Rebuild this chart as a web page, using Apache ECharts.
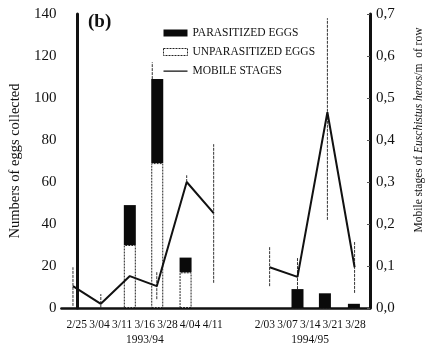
<!DOCTYPE html>
<html>
<head>
<meta charset="utf-8">
<script src="https://cdn.jsdelivr.net/npm/echarts@6/dist/echarts.min.js"></script>
<style>
  html, body { margin: 0; padding: 0; background: #fff; }
  #chart { width: 433px; height: 349px; }
</style>
</head>
<body>
<div id="chart"></div>
<script>
  // tick labels along the bottom (x in label slots)
  var tickLabels = ['2/25', '3/04', '3/11', '3/16', '3/28', '4/04', '4/11', '2/03', '3/07', '3/14', '3/21', '3/28']
  var tickPos = [0, 1, 2, 3, 4, 5, 6, 8.3, 9.3, 10.3, 11.3, 12.3]
  var seasonUnder = { '3': '1993/94', '10.3': '1994/95' }

  // egg samples (left axis)
  var eggX = [2.34, 3.55, 4.8, 9.74, 10.95, 12.23]
  var unparasitized = [30, 69, 17, 0, 0, 0]
  var parasitized = [19, 40, 7, 9, 7, 2]

  // mobile stages per m of row (right axis)
  var mob93X = [-0.17, 1.06, 2.34, 3.53, 4.85, 6.04]
  var mob93 = [0.052, 0.01, 0.076, 0.052, 0.30, 0.226]
  var mob94X = [8.51, 9.74, 11.06, 12.26]
  var mob94 = [0.097, 0.074, 0.466, 0.097]

  // error bars of mobile stages: x, low, high
  var errX = [-0.17, 1.06, 3.53, 4.85, 6.04, 8.51, 9.74, 11.06, 12.26]
  var errLo = [0.005, 0, 0.021, 0.30, 0.06, 0.052, 0.045, 0.21, 0.036]
  var errHi = [0.097, 0.033, 0.086, 0.316, 0.39, 0.145, 0.119, 0.69, 0.157]
  // the one on the eggs (3/16)
  var eggErr = [[3.33, 109, 117]]

  var serif = '"Liberation Serif", "DejaVu Serif", serif'
  var BAR_W = 12

  function pairs (xs, ys) {
    return xs.map(function (x, i) { return [x, ys[i]] })
  }

  function errBar (color) {
    return function (params, api) {
      var p1 = api.coord([api.value(0), api.value(1)])
      var p2 = api.coord([api.value(0), api.value(2)])
      return {
        type: 'line',
        shape: { x1: p1[0], y1: p1[1], x2: p2[0], y2: p2[1] },
        style: { stroke: color, lineWidth: 1, lineDash: [3, 1] }
      }
    }
  }

  // parasitized part sits on top of the unparasitized part
  function topBar (params, api) {
    var x = api.value(0)
    var base = api.value(1)
    var p0 = api.coord([x, base])
    var p1 = api.coord([x, base + api.value(2)])
    return {
      type: 'rect',
      shape: { x: p0[0] - BAR_W / 2, y: p1[1], width: BAR_W, height: p0[1] - p1[1] },
      style: { fill: '#0a0a0a' }
    }
  }

  var chart = echarts.init(document.getElementById('chart'))

  var option = {
    animation: false,
    backgroundColor: '#fff',
    title: {
      text: '(b)',
      left: 83,
      top: 8,
      textStyle: { fontFamily: serif, fontSize: 19, fontWeight: 'bold', color: '#111' }
    },
    legend: {
      orient: 'vertical',
      left: 163,
      top: 27,
      padding: 0,
      itemWidth: 24,
      itemHeight: 7,
      itemGap: 7,
      textStyle: { fontFamily: serif, fontSize: 11.5, color: '#111' },
      data: [
        { name: 'PARASITIZED EGGS', icon: 'rect', itemStyle: { color: '#0a0a0a' } },
        {
          name: 'UNPARASITIZED EGGS',
          icon: 'rect',
          itemStyle: { color: '#fff', borderColor: '#222', borderWidth: 1, borderType: [2, 1] }
        },
        {
          name: 'MOBILE STAGES',
          icon: 'path://M0,0L0.01,0L0.01,0.01L0,0.01Z M0,3L24,3L24,4.2L0,4.2Z M0,6.99L0.01,6.99L0.01,7L0,7Z',
          itemStyle: { color: '#111' }
        }
      ]
    },
    grid: { left: 57, right: 56, top: 14, bottom: 41 },
    xAxis: {
      type: 'value',
      min: -0.68,
      max: 12.94,
      splitLine: { show: false },
      axisLine: { lineStyle: { color: '#111', width: 2.5 } },
      axisTick: { show: false },
      axisLabel: {
        customValues: tickPos,
        margin: 9,
        fontFamily: serif,
        fontSize: 11.5,
        color: '#111',
        lineHeight: 15,
        formatter: function (v) {
          var i = tickPos.indexOf(v)
          var s = i >= 0 ? tickLabels[i] : ''
          if (seasonUnder[String(v)]) s += '\n' + seasonUnder[String(v)]
          return s
        }
      }
    },
    yAxis: [
      {
        type: 'value',
        min: 0,
        max: 140,
        interval: 20,
        name: 'Numbers of eggs collected',
        nameLocation: 'middle',
        nameGap: 33,
        nameTextStyle: { fontFamily: serif, fontSize: 14.5, color: '#111' },
        splitLine: { show: false },
        axisLine: { show: true, lineStyle: { color: '#111', width: 3 } },
        axisTick: { show: false },
        axisLabel: { fontFamily: serif, fontSize: 15, color: '#111', margin: 5 }
      },
      {
        type: 'value',
        min: 0,
        max: 0.7,
        interval: 0.1,
        position: 'right',
        name: '{n|Mobile stages of }{i|Euschistus heros}{n|/m  of row}',
        nameLocation: 'middle',
        nameGap: 43,
        nameTextStyle: {
          padding: [0, 0, 0, 62],
          rich: {
            n: { fontFamily: serif, fontSize: 11.5, color: '#111' },
            i: { fontFamily: serif, fontSize: 11.5, fontStyle: 'italic', color: '#111' }
          }
        },
        splitLine: { show: false },
        axisLine: { show: true, lineStyle: { color: '#111', width: 3 } },
        axisTick: { show: true, inside: true, length: 3, lineStyle: { color: '#555' } },
        axisLabel: {
          fontFamily: serif,
          fontSize: 15,
          color: '#111',
          margin: 6,
          formatter: function (v) { return v.toFixed(1).replace('.', ',') }
        }
      }
    ],
    series: [
      {
        name: 'UNPARASITIZED EGGS',
        type: 'bar',
        barWidth: BAR_W,
        data: pairs(eggX, unparasitized),
        itemStyle: { color: '#fff', borderColor: '#222', borderWidth: 1, borderType: [2, 1] }
      },
      {
        name: 'PARASITIZED EGGS',
        type: 'custom',
        renderItem: topBar,
        encode: { x: 0, y: 1 },
        data: eggX.map(function (x, i) { return [x, unparasitized[i], parasitized[i]] }),
        itemStyle: { color: '#0a0a0a' },
        z: 3
      },
      {
        name: 'MOBILE STAGES',
        type: 'line',
        yAxisIndex: 1,
        symbol: 'none',
        data: pairs(mob93X, mob93),
        lineStyle: { color: '#111', width: 2 },
        itemStyle: { color: '#111' },
        z: 5
      },
      {
        name: 'MOBILE STAGES',
        type: 'line',
        yAxisIndex: 1,
        symbol: 'none',
        data: pairs(mob94X, mob94),
        lineStyle: { color: '#111', width: 2 },
        itemStyle: { color: '#111' },
        z: 5
      },
      {
        type: 'custom',
        yAxisIndex: 1,
        renderItem: errBar('#333'),
        encode: { x: 0, y: [1, 2] },
        data: errX.map(function (x, i) { return [x, errLo[i], errHi[i]] }),
        z: 4
      },
      {
        type: 'custom',
        yAxisIndex: 0,
        renderItem: errBar('#333'),
        encode: { x: 0, y: [1, 2] },
        data: eggErr,
        z: 4
      }
    ]
  }

  option && chart.setOption(option)
</script>
</body>
</html>
